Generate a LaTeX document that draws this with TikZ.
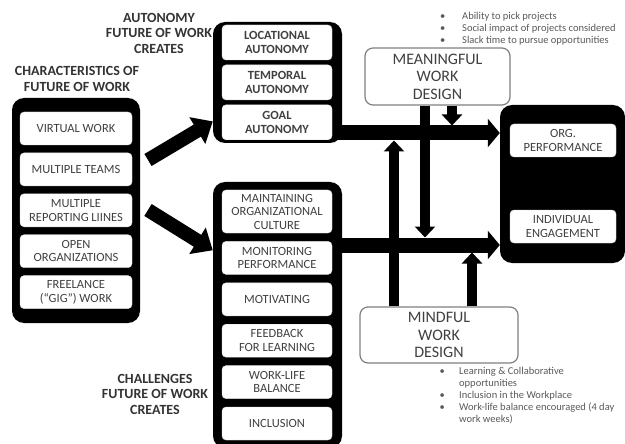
\documentclass[tikz,border=0pt]{standalone}
\usepackage{fontspec}
\setmainfont{Carlito}
\usepackage{tikz}
\usetikzlibrary{arrows.meta,positioning}

\begin{document}
\begin{tikzpicture}[x=1pt,y=-1pt]
    \tikzstyle{holder}=[rectangle, rounded corners=12pt, fill=black, inner sep=0pt]
    \tikzstyle{cell}=[rectangle, rounded corners=4pt, fill=white, draw=black!15, text=black!75, align=center, inner sep=1pt, minimum width=110pt, minimum height=33pt, font=\fontsize{12.5}{13.5}\selectfont]
    \tikzstyle{heading}=[align=center, text=black!80, font=\bfseries\fontsize{14}{15.5}\selectfont]
    \tikzstyle{design}=[rectangle, rounded corners=8pt, draw=black!50, line width=1.2pt, fill=white, text=black!75, align=center, font=\fontsize{16}{17.5}\selectfont]
    \tikzstyle{note}=[anchor=north west, inner sep=0pt, text=black!65, font=\fontsize{10.5}{11.8}\selectfont]
    \tikzstyle{fat}=[line width=14pt, -{Triangle[width=30pt,length=18pt]}]
    \tikzstyle{connect}=[line width=15pt, -{Triangle[width=28pt,length=12pt]}]
    \tikzstyle{bar}=[line width=10pt, -{Triangle[width=20pt,length=11pt]}]

    \useasboundingbox (0,0) rectangle (625,444);

    % characteristics
    \node[heading] (traitstitle) at (77,79) {CHARACTERISTICS OF\\FUTURE OF WORK};
    \node[holder, minimum width=128pt, minimum height=225pt] (traits) at (76,210.5) {};
    \node[cell, minimum width=112pt] (virtual) at (76,128.5) {VIRTUAL WORK};
    \node[cell, minimum width=112pt, below=7.5pt of virtual] (teams) {MULTIPLE TEAMS};
    \node[cell, minimum width=112pt, below=7.5pt of teams] (lines) {MULTIPLE\\REPORTING LIINES};
    \node[cell, minimum width=112pt, below=7.5pt of lines] (openorg) {OPEN\\ORGANIZATIONS};
    \node[cell, minimum width=112pt, below=7.5pt of openorg] (gig) {FREELANCE\\(``GIG'') WORK};

    % autonomy
    \node[heading] (autotitle) at (159,33) {AUTONOMY\\FUTURE OF WORK\\CREATES};
    \node[holder, minimum width=129pt, minimum height=121pt] (auto) at (277.5,82.5) {};
    \node[cell, minimum height=35pt, font=\bfseries\fontsize{12.5}{13.5}\selectfont] (locational) at (277,42.5) {LOCATIONAL\\AUTONOMY};
    \node[cell, minimum height=35pt, font=\bfseries\fontsize{12.5}{13.5}\selectfont, below=4.5pt of locational] (temporal) {TEMPORAL\\AUTONOMY};
    \node[cell, minimum height=35pt, font=\bfseries\fontsize{12.5}{13.5}\selectfont, below=4.5pt of temporal] (goal) {GOAL\\AUTONOMY};

    % challenges
    \node[heading] (chaltitle) at (155,394) {CHALLENGES\\FUTURE OF WORK\\CREATES};
    \node[holder, minimum width=129pt, minimum height=266pt] (chal) at (277.5,315) {};
    \node[cell, minimum height=43pt] (culture) at (277,211.5) {MAINTAINING\\ORGANIZATIONAL\\CULTURE};
    \node[cell, below=8pt of culture] (monitor) {MONITORING\\PERFORMANCE};
    \node[cell, below=8pt of monitor] (motiv) {MOTIVATING};
    \node[cell, below=8pt of motiv] (feedback) {FEEDBACK\\FOR LEARNING};
    \node[cell, below=8pt of feedback] (balance) {WORK-LIFE\\BALANCE};
    \node[cell, below=8pt of balance] (inclusion) {INCLUSION};

    % outcomes
    \node[holder, minimum width=125pt, minimum height=158pt] (perf) at (562.5,184) {};
    \node[cell, minimum width=106pt] (org) at (563,140.5) {ORG.\\PERFORMANCE};
    \node[cell, minimum width=106pt] (engage) at (563,226.5) {INDIVIDUAL\\ENGAGEMENT};

    % work design
    \node[design, minimum width=145pt, minimum height=57pt] (meaning) at (437.5,76.5) {MEANINGFUL\\WORK\\DESIGN};
    \node[design, minimum width=158pt, minimum height=56pt] (mindful) at (439,335) {MINDFUL\\WORK\\DESIGN};
    \node[note] (perks) at (440,11) {\begin{tabular}{@{}p{22pt}@{}l@{}}
        \textbullet & Ability to pick projects\\
        \textbullet & Social impact of projects considered\\
        \textbullet & Slack time to pursue opportunities
      \end{tabular}};
    \node[note] (habits) at (439.5,366.5) {\begin{tabular}{@{}p{19.5pt}@{}l@{}}
        \textbullet & Learning \& Collaborative\\
        & opportunities\\
        \textbullet & Inclusion in the Workplace\\
        \textbullet & Work-life balance encouraged (4 day\\
        & work weeks)
      \end{tabular}};

    \coordinate (tail1) at (148,160);
    \coordinate (tail2) at (148,210);
    \coordinate (topline) at (0,133);
    \coordinate (botline) at (0,245);
    \coordinate (leftbar) at (394,0);
    \coordinate (midbar) at (425,0);
    \coordinate (meanbar) at (452,0);
    \coordinate (mindbar) at (472,0);

    \path
      (tail1) edge [fat] (auto.211)
      (tail2) edge [fat] (chal.135)
      ([xshift=-6pt]auto.east |- topline) edge [connect] (perf.west |- topline)
      ([xshift=-6pt]chal.east |- botline) edge [connect] (perf.west |- botline)
      (leftbar |- mindful.north) edge [bar, shorten >=7.5pt] (leftbar |- topline)
      (midbar |- meaning.south) edge [bar, shorten >=7.5pt] (midbar |- botline)
      (meanbar |- meaning.south) edge [bar, shorten >=7.5pt] (meanbar |- topline)
      (mindbar |- mindful.north) edge [bar, shorten >=7.5pt] (mindbar |- botline);
\end{tikzpicture}
\end{document}
